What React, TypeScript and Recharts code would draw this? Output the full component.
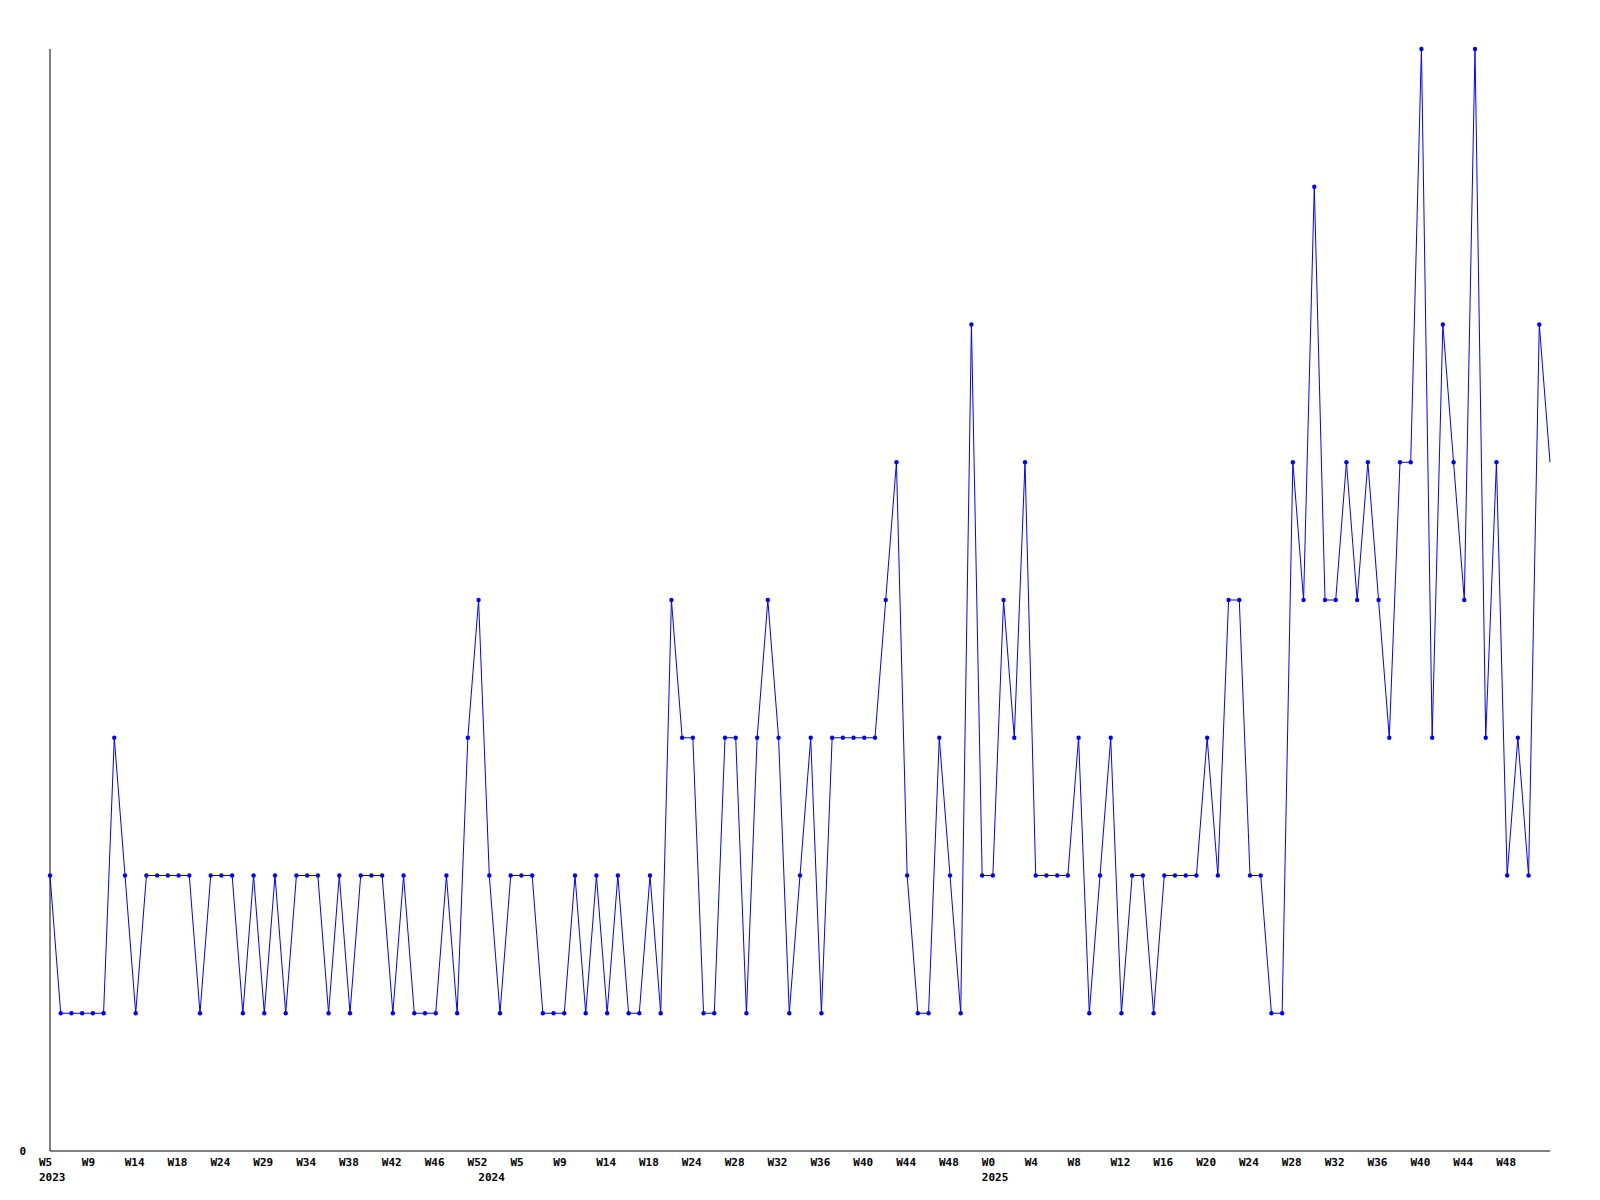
import { Line, LineChart, XAxis, YAxis } from 'recharts';

// weekly counts, 2023 W5 .. 2025
const counts = [
  2, 1, 1, 1, 1, 1, 3, 2, 1, 2, 2, 2, 2, 2, 1, 2, 2, 2, 1, 2,
  1, 2, 1, 2, 2, 2, 1, 2, 1, 2, 2, 2, 1, 2, 1, 1, 1, 2, 1, 3,
  4, 2, 1, 2, 2, 2, 1, 1, 1, 2, 1, 2, 1, 2, 1, 1, 2, 1, 4, 3,
  3, 1, 1, 3, 3, 1, 3, 4, 3, 1, 2, 3, 1, 3, 3, 3, 3, 3, 4, 5,
  2, 1, 1, 3, 2, 1, 6, 2, 2, 4, 3, 5, 2, 2, 2, 2, 3, 1, 2, 3,
  1, 2, 2, 1, 2, 2, 2, 2, 3, 2, 4, 4, 2, 2, 1, 1, 5, 4, 7, 4,
  4, 5, 4, 5, 4, 3, 5, 5, 8, 3, 6, 5, 4, 8, 3, 5, 2, 3, 2, 6,
  5,
];

const tickIndex = [
  0, 4, 8, 12, 16, 20, 24, 28, 32, 36, 40, 41, 44, 48, 52, 56, 60, 64,
  68, 72, 76, 80, 84, 88, 92, 96, 100, 104, 108, 112, 116, 120, 124,
  128, 132, 136,
];
const tickWeeks = [
  'W5', 'W9', 'W14', 'W18', 'W24', 'W29', 'W34', 'W38', 'W42', 'W46', 'W52', '',
  'W5', 'W9', 'W14', 'W18', 'W24', 'W28', 'W32', 'W36', 'W40', 'W44', 'W48',
  'W0', 'W4', 'W8', 'W12', 'W16', 'W20', 'W24', 'W28', 'W32', 'W36', 'W40',
  'W44', 'W48',
];
const tickYears: Record<number, string> = { 0: '2023', 41: '2024', 88: '2025' };

const data = counts.map((v, i) => ({ i, v }));

const font = {
  fontFamily: '"DejaVu Sans Mono", monospace',
  fontWeight: 'bold' as const,
  fontSize: 11,
  fill: '#000',
};

function WeekTick(props: any) {
  const { x, y, payload } = props;
  const k = tickIndex.indexOf(payload.value);
  const year = tickYears[payload.value];
  return (
    <g>
      <text x={x - 11} y={y + 7} textAnchor="start" {...font}>
        {tickWeeks[k]}
      </text>
      {year && (
        <text x={x - 11} y={y + 22} textAnchor="start" {...font}>
          {year}
        </text>
      )}
    </g>
  );
}

function Dot(props: any) {
  const { cx, cy, index } = props;
  if (index === counts.length - 1) return <g key={`d${index}`} />;
  return <circle key={`d${index}`} cx={cx} cy={cy} r={2.2} fill="#0000ff" />;
}

export default function App() {
  return (
    <div style={{ width: 1584, height: 1184, background: '#fff' }}>
      <LineChart
        width={1584}
        height={1184}
        data={data}
        margin={{ top: 41, right: 42, bottom: 1, left: 0 }}
      >
        <XAxis
          type="number"
          dataKey="i"
          domain={[0, 140]}
          ticks={tickIndex}
          interval={0}
          tick={<WeekTick />}
          tickLine={false}
          axisLine={{ stroke: '#000' }}
          height={40}
        />
        <YAxis
          type="number"
          domain={[0, 8]}
          ticks={[0]}
          width={42}
          tickLine={false}
          tickMargin={18}
          axisLine={{ stroke: '#000' }}
          tick={font}
        />
        <Line
          dataKey="v"
          type="linear"
          stroke="#0000ff"
          strokeWidth={1}
          dot={<Dot />}
          activeDot={false}
          isAnimationActive={false}
        />
      </LineChart>
    </div>
  );
}
